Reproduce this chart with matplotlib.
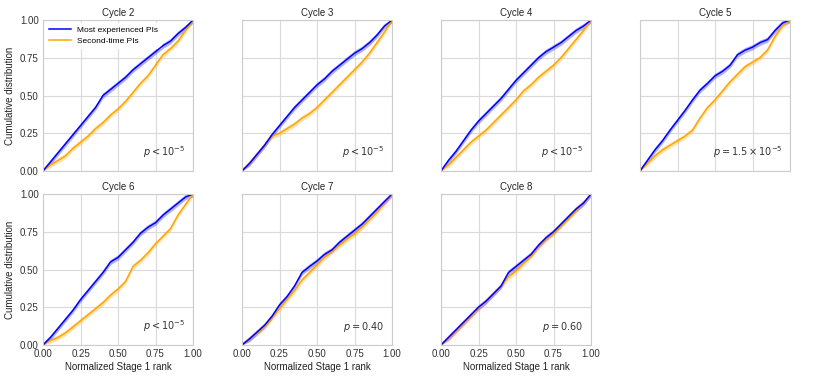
import numpy as np
import matplotlib
matplotlib.use("Agg")
import matplotlib.pyplot as plt

# normalized Stage 1 rank grid
ranks = np.linspace(0, 1, 21)

cycles = ["Cycle 2", "Cycle 3", "Cycle 4", "Cycle 5", "Cycle 6", "Cycle 7", "Cycle 8"]
p_labels = [r"$p < 10^{-5}$", r"$p < 10^{-5}$", r"$p < 10^{-5}$",
            r"$p = 1.5 \times 10^{-5}$", r"$p < 10^{-5}$", r"$p = 0.40$", r"$p = 0.60$"]

# cumulative distribution, most experienced PIs
most_exp = [
    [0, 0.06, 0.12, 0.18, 0.24, 0.30, 0.36, 0.42, 0.50, 0.54, 0.58, 0.62, 0.67, 0.71, 0.75, 0.79, 0.83, 0.86, 0.91, 0.95, 1.0],
    [0, 0.05, 0.11, 0.17, 0.24, 0.30, 0.36, 0.42, 0.47, 0.52, 0.57, 0.61, 0.66, 0.70, 0.74, 0.78, 0.81, 0.85, 0.90, 0.96, 1.0],
    [0, 0.07, 0.13, 0.20, 0.27, 0.33, 0.38, 0.43, 0.48, 0.54, 0.60, 0.65, 0.70, 0.75, 0.79, 0.82, 0.85, 0.89, 0.93, 0.96, 1.0],
    [0, 0.07, 0.14, 0.20, 0.27, 0.335, 0.40, 0.47, 0.535, 0.58, 0.63, 0.66, 0.70, 0.77, 0.80, 0.82, 0.85, 0.87, 0.93, 0.98, 1.0],
    [0, 0.05, 0.11, 0.17, 0.23, 0.30, 0.36, 0.42, 0.48, 0.55, 0.58, 0.63, 0.68, 0.74, 0.78, 0.81, 0.86, 0.90, 0.94, 0.98, 1.0],
    [0, 0.04, 0.085, 0.13, 0.19, 0.265, 0.32, 0.39, 0.48, 0.52, 0.556, 0.60, 0.63, 0.68, 0.72, 0.76, 0.80, 0.85, 0.90, 0.95, 1.0],
    [0, 0.05, 0.10, 0.15, 0.20, 0.25, 0.29, 0.34, 0.39, 0.48, 0.52, 0.56, 0.60, 0.66, 0.71, 0.75, 0.80, 0.85, 0.90, 0.94, 1.0],
]

# cumulative distribution, second-time PIs
second_time = [
    [0, 0.04, 0.07, 0.10, 0.15, 0.19, 0.23, 0.28, 0.32, 0.37, 0.41, 0.46, 0.52, 0.58, 0.63, 0.70, 0.77, 0.81, 0.86, 0.93, 1.0],
    [0, 0.05, 0.11, 0.17, 0.23, 0.25, 0.28, 0.31, 0.35, 0.38, 0.42, 0.47, 0.52, 0.57, 0.62, 0.67, 0.72, 0.78, 0.85, 0.92, 1.0],
    [0, 0.04, 0.09, 0.14, 0.19, 0.23, 0.27, 0.32, 0.37, 0.42, 0.47, 0.53, 0.57, 0.62, 0.66, 0.70, 0.75, 0.81, 0.87, 0.93, 1.0],
    [0, 0.05, 0.10, 0.14, 0.17, 0.20, 0.23, 0.27, 0.35, 0.42, 0.47, 0.53, 0.59, 0.64, 0.69, 0.72, 0.75, 0.80, 0.89, 0.96, 1.0],
    [0, 0.03, 0.05, 0.08, 0.12, 0.16, 0.20, 0.24, 0.28, 0.33, 0.37, 0.42, 0.52, 0.56, 0.61, 0.67, 0.72, 0.77, 0.86, 0.93, 1.0],
    [0, 0.04, 0.08, 0.12, 0.18, 0.24, 0.30, 0.36, 0.43, 0.48, 0.53, 0.58, 0.62, 0.66, 0.70, 0.735, 0.78, 0.83, 0.88, 0.94, 1.0],
    [0, 0.04, 0.09, 0.14, 0.19, 0.24, 0.29, 0.34, 0.39, 0.45, 0.49, 0.54, 0.59, 0.65, 0.70, 0.74, 0.79, 0.84, 0.89, 0.94, 1.0],
]

band = 0.018

plt.rcParams["font.family"] = ["Liberation Sans", "DejaVu Sans"]
plt.rcParams["mathtext.fontset"] = "dejavusans"

fig = plt.figure(figsize=(8.31, 3.81), dpi=100)

ax_w = 150 / 831
ax_h = 151 / 381
lefts = [43 / 831, 242 / 831, 441 / 831, 640 / 831]
bottoms = [1 - 171 / 381, 1 - 345 / 381]

tick_vals = [0, 0.25, 0.5, 0.75, 1.0]
tick_txt = ["0.00", "0.25", "0.50", "0.75", "1.00"]

for i, name in enumerate(cycles):
    row, col = divmod(i, 4)
    ax = fig.add_axes([lefts[col], bottoms[row], ax_w, ax_h])
    ax.set_facecolor("white")
    ax.grid(True, color="#dadada", linewidth=0.8)
    ax.set_axisbelow(True)
    for s in ax.spines.values():
        s.set_color("#cccccc")
        s.set_linewidth(0.8)

    me = np.array(most_exp[i])
    st = np.array(second_time[i])
    ax.fill_between(ranks, np.clip(st - band, 0, 1), np.clip(st + band, 0, 1),
                    color="orange", alpha=0.3, linewidth=0)
    ax.plot(ranks, st, color="orange", linewidth=1.1, label="Second-time PIs")
    ax.fill_between(ranks, np.clip(me - band, 0, 1), np.clip(me + band, 0, 1),
                    color="blue", alpha=0.3, linewidth=0)
    ax.plot(ranks, me, color="blue", linewidth=1.1, label="Most experienced PIs")

    ax.set_xlim(0, 1)
    ax.set_ylim(0, 1)
    ax.set_xticks(tick_vals)
    ax.set_yticks(tick_vals)
    ax.tick_params(length=0, pad=3, labelsize=7, colors="#333333")
    ax.set_title(name, fontsize=7, color="#222222", pad=3)

    if col == 0:
        ax.set_yticklabels(tick_txt)
        ax.set_ylabel("Cumulative distribution", fontsize=7, color="#222222")
    else:
        ax.set_yticklabels([])
    if row == 1:
        ax.set_xticklabels(tick_txt)
        ax.set_xlabel("Normalized Stage 1 rank", fontsize=7, color="#222222", labelpad=2)
    else:
        ax.set_xticklabels([])

    ax.text(0.95, 0.07, p_labels[i], transform=ax.transAxes, ha="right",
            va="bottom", fontsize=7, color="#333333")

    if i == 0:
        h, l = ax.get_legend_handles_labels()
        leg = ax.legend(h[::-1], l[::-1], loc="upper left", fontsize=6,
                        frameon=True, framealpha=1, edgecolor="white",
                        handlelength=2.6, borderaxespad=0.4, borderpad=0.3,
                        labelspacing=0.45)
        leg.set_zorder(1.5)

fig.savefig("out.png", dpi=100)
